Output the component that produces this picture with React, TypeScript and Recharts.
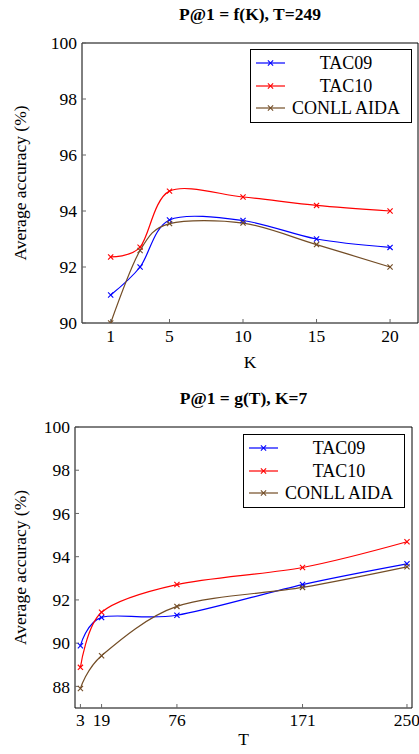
import React from "react";
import { Legend, Line, LineChart, XAxis, YAxis } from "recharts";

// top panel: P@1 as a function of K
const kValues = [1, 3, 5, 10, 15, 20];
const kTicks = [1, 5, 10, 15, 20];
const kTac09 = [91.0, 92.0, 93.68, 93.66, 93.0, 92.7];
const kTac10 = [92.36, 92.71, 94.71, 94.5, 94.2, 94.0];
const kConll = [90.0, 92.59, 93.55, 93.57, 92.8, 92.0];
const kYTicks = [90, 92, 94, 96, 98, 100];

// bottom panel: P@1 as a function of T
const tValues = [3, 19, 76, 171, 250];
const tTac09 = [89.88, 91.19, 91.29, 92.71, 93.67];
const tTac10 = [88.88, 91.43, 92.71, 93.5, 94.69];
const tConll = [87.9, 89.42, 91.7, 92.58, 93.53];
const tYTicks = [88, 90, 92, 94, 96, 98, 100];

const seriesNames = ["TAC09", "TAC10", "CONLL AIDA"];
const seriesColors = ["#0000ff", "#ff0000", "#734d26"];

const kData = kValues.map((k, i) => ({ x: k, tac09: kTac09[i], tac10: kTac10[i], conll: kConll[i] }));
const tData = tValues.map((t, i) => ({ x: t, tac09: tTac09[i], tac10: tTac10[i], conll: tConll[i] }));

const FONT =
    "'Liberation Serif', Tinos, 'Times New Roman', Times, 'Nimbus Roman', 'Noto Serif', 'DejaVu Serif', serif";
const tickFont = { fontFamily: FONT, fontSize: 17.5, fill: "#000" };

// pgfplots "smooth" style curve (cardinal spline, tension 0.55)
const TENSION = 0.153;
const pgfSmooth = (context: any) => {
    let pts: number[][] = [];
    return {
        areaStart() {},
        areaEnd() {},
        lineStart() {
            pts = [];
        },
        point(x: number, y: number) {
            pts.push([+x, +y]);
        },
        lineEnd() {
            const n = pts.length;
            if (!n) return;
            context.moveTo(pts[0][0], pts[0][1]);
            for (let i = 1; i < n; i++) {
                const a = pts[i - 1];
                const b = pts[i];
                const pa = i >= 2 ? pts[i - 2] : null;
                const nb = i + 1 < n ? pts[i + 1] : null;
                const c1 = pa ? [a[0] + TENSION * (b[0] - pa[0]), a[1] + TENSION * (b[1] - pa[1])] : a;
                const c2 = nb ? [b[0] - TENSION * (nb[0] - a[0]), b[1] - TENSION * (nb[1] - a[1])] : b;
                context.bezierCurveTo(c1[0], c1[1], c2[0], c2[1], b[0], b[1]);
            }
        },
    };
};

const Cross = (props: any) => {
    const { cx, cy, stroke } = props;
    if (cx == null || cy == null) return <g />;
    const s = 2.6;
    return (
        <g>
            <line x1={cx - s} y1={cy - s} x2={cx + s} y2={cy + s} stroke={stroke} strokeWidth={1.1} />
            <line x1={cx - s} y1={cy + s} x2={cx + s} y2={cy - s} stroke={stroke} strokeWidth={1.1} />
        </g>
    );
};

const legendOrder = (item: any) => seriesNames.indexOf(item.value);

const renderLegend = (props: any) => {
    const items = [...(props.payload || [])].sort((a: any, b: any) => legendOrder(a) - legendOrder(b));
    return (
        <div
            style={{
                border: "1px solid #000",
                background: "#fff",
                width: 162,
                height: 74,
                boxSizing: "border-box",
                paddingTop: 2,
            }}
        >
            {items.map((entry: any) => (
                <div key={entry.value} style={{ display: "flex", alignItems: "center", height: 22.5 }}>
                    <svg width={29} height={10} style={{ marginLeft: 5, flex: "none" }}>
                        <line x1={0} y1={5} x2={29} y2={5} stroke={entry.color} strokeWidth={1.2} />
                        <Cross cx={14.5} cy={5} stroke={entry.color} />
                    </svg>
                    <span
                        style={{
                            flex: 1,
                            textAlign: "center",
                            fontFamily: FONT,
                            fontSize: 18,
                            lineHeight: "22.5px",
                            marginLeft: 4,
                            marginRight: 8,
                            color: "#000",
                            whiteSpace: "nowrap",
                        }}
                    >
                        {entry.value}
                    </span>
                </div>
            ))}
        </div>
    );
};

interface PanelProps {
    data: Array<Record<string, number>>;
    top: number;
    height: number;
    margin: { top: number; right: number; left: number; bottom: number };
    yWidth: number;
    xHeight: number;
    xDomain: [number, number];
    xTicks: number[];
    yDomain: [number, number];
    yTicks: number[];
    xLabel: string;
    xLabelOffset: number;
    xTickMargin: number;
    legendPos: { left: number; top: number };
    title: string;
}

function Panel(p: PanelProps) {
    const plotLeft = p.margin.left + p.yWidth;
    const plotRight = 419 - p.margin.right - 1;
    const keys = ["tac09", "tac10", "conll"];
    return (
        <div style={{ position: "absolute", left: 0, top: p.top, width: 419, height: p.height }}>
            <div
                style={{
                    position: "absolute",
                    left: plotLeft,
                    width: plotRight - plotLeft,
                    top: p.margin.top - 38,
                    height: 20,
                    lineHeight: "20px",
                    textAlign: "center",
                    fontFamily: FONT,
                    fontWeight: "bold",
                    fontSize: 17.5,
                    color: "#000",
                }}
            >
                {p.title}
            </div>
            <LineChart width={419} height={p.height} data={p.data} margin={p.margin}>
                <XAxis
                    xAxisId="b"
                    dataKey="x"
                    type="number"
                    domain={p.xDomain}
                    ticks={p.xTicks}
                    allowDataOverflow
                    height={p.xHeight}
                    axisLine={{ stroke: "#000" }}
                    tickLine={{ stroke: "#666" }}
                    tickSize={-4}
                    tickMargin={p.xTickMargin}
                    tick={tickFont}
                    interval={0}
                    label={{
                        value: p.xLabel,
                        position: "insideBottom",
                        offset: p.xLabelOffset,
                        fontFamily: FONT,
                        fontSize: 17.5,
                        fill: "#000",
                    }}
                />
                <XAxis
                    xAxisId="t"
                    orientation="top"
                    type="number"
                    domain={p.xDomain}
                    ticks={p.xTicks}
                    allowDataOverflow
                    height={1}
                    axisLine={{ stroke: "#000" }}
                    tickLine={{ stroke: "#666" }}
                    tickSize={-4}
                    tick={false}
                    interval={0}
                />
                <YAxis
                    yAxisId="l"
                    type="number"
                    domain={p.yDomain}
                    ticks={p.yTicks}
                    allowDataOverflow
                    width={p.yWidth}
                    axisLine={{ stroke: "#000" }}
                    tickLine={{ stroke: "#666" }}
                    tickSize={-4}
                    tickMargin={9}
                    tick={tickFont}
                    interval={0}
                    label={{
                        value: "Average accuracy (%)",
                        angle: -90,
                        position: "insideLeft",
                        offset: 20,
                        fontFamily: FONT,
                        fontSize: 17.5,
                        fill: "#000",
                        style: { textAnchor: "middle" },
                    }}
                />
                <YAxis
                    yAxisId="r"
                    orientation="right"
                    type="number"
                    domain={p.yDomain}
                    ticks={p.yTicks}
                    allowDataOverflow
                    width={1}
                    axisLine={{ stroke: "#000" }}
                    tickLine={{ stroke: "#666" }}
                    tickSize={-4}
                    tick={false}
                    interval={0}
                />
                {keys.map((key, i) => (
                    <Line
                        key={key}
                        xAxisId="b"
                        yAxisId="l"
                        dataKey={key}
                        name={seriesNames[i]}
                        type={pgfSmooth as any}
                        stroke={seriesColors[i]}
                        strokeWidth={1.2}
                        dot={<Cross />}
                        activeDot={false}
                        isAnimationActive={false}
                    />
                ))}
                <Legend
                    layout="vertical"
                    align="center"
                    verticalAlign="middle"
                    itemSorter={legendOrder as any}
                    content={renderLegend}
                    wrapperStyle={{ position: "absolute", left: p.legendPos.left, top: p.legendPos.top, width: 162 }}
                />
            </LineChart>
        </div>
    );
}

export default function App() {
    return (
        <div style={{ position: "absolute", left: 0, top: 0, width: 419, height: 754, background: "#fff" }}>
            <Panel
                data={kData}
                top={0}
                height={380}
                margin={{ top: 42, right: 0, left: 0, bottom: 0 }}
                yWidth={82}
                xHeight={57}
                xDomain={[-0.95, 21.9]}
                xTicks={kTicks}
                yDomain={[90, 100]}
                yTicks={kYTicks}
                xLabel="K"
                xLabelOffset={12.5}
                xTickMargin={10.5}
                legendPos={{ left: 250, top: 49 }}
                title="P@1 = f(K), T=249"
            />
            <Panel
                data={tData}
                top={384}
                height={370}
                margin={{ top: 42, right: 6, left: 0, bottom: 0 }}
                yWidth={75}
                xHeight={46}
                xDomain={[-1.1, 253.8]}
                xTicks={tValues}
                yDomain={[87, 100]}
                yTicks={tYTicks}
                xLabel="T"
                xLabelOffset={9}
                xTickMargin={10}
                legendPos={{ left: 243, top: 50 }}
                title="P@1 = g(T), K=7"
            />
        </div>
    );
}
